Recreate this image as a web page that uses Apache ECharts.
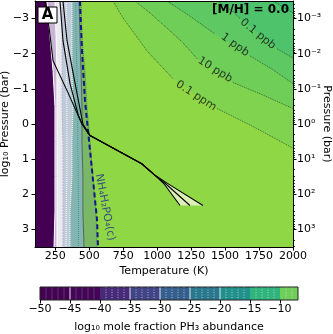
<!DOCTYPE html>
<html>
<head>
<meta charset="utf-8">
<script src="https://cdn.jsdelivr.net/npm/echarts@6/dist/echarts.min.js"></script>
<style>
  html, body { margin: 0; padding: 0; background: #fff; }
  #chart { width: 333px; height: 334px; }
</style>
</head>
<body>
<div id="chart"></div>
<script>
// ---- axes ----
const xTicks = [250, 500, 750, 1000, 1250, 1500, 1750, 2000];
const leftTicks = [-3, -2, -1, 0, 1, 2, 3];
const leftTickLabels = ['−3', '−2', '−1', '0', '1', '2', '3'];
const rightTickLabels = ['10⁻³', '10⁻²', '10⁻¹', '10⁰', '10¹', '10²', '10³'];
const minorMult = [2, 3, 4, 5, 6, 7, 8, 9];
const cbTicks = [-50, -45, -40, -35, -30, -25, -20, -15, -10];
const cbTickLabels = ['−50', '−45', '−40', '−35', '−30', '−25', '−20', '−15', '−10'];

// ---- transition zone: band edges (T in K) read at these log10 P rows ----
const edgeLogP   = [-3.5, -2.5, -1.5, -0.5, 0.5, 1.5, 2.5, 3.5];
const leftEdge   = [100, 100, 100, 100, 100, 100, 100, 100];
const purpleEdge = [188, 210, 233, 247, 247, 247, 247, 240];
const lavEdge    = [247, 255, 262, 262, 262, 262, 262, 262];
const whiteEdge  = [299, 299, 299, 299, 306, 306, 306, 306];
const greyEdge   = [372, 372, 372, 380, 372, 372, 358, 358];
const tealEdge   = [424, 431, 439, 446, 446, 453, 453, 461];
const greenEdge  = [439, 446, 468, 483, 505, 527, 549, 557];
const dotLineA   = [330, 330, 332, 335, 335, 335, 330, 328];
const dotLineB   = [400, 402, 408, 415, 415, 418, 420, 420];

// ---- PH3 contours in the hot region, [T, log10 P], null = label gap ----
const ppm01 = [[674, -3.5], [748, -3.02], [925, -2.08], [1116, -1.29], null, [1440, -0.44], [1720, 0.10], [2000, 0.69]];
const ppb10 = [[836, -3.5], [947, -3.16], [1072, -2.73], [1190, -2.31], [1293, -1.86], null, [1558, -1.18], [1757, -0.86], [2000, -0.44]];
const ppb1  = [[1072, -3.5], [1241, -3.07], [1425, -2.56], null, [1683, -1.94], [1850, -1.55], [2000, -1.15]];
const ppb01 = [[1440, -3.5], [1551, -3.22], [1610, -3.0], null, [1882, -2.14], [2000, -1.88]];
const ppt10 = [[1853, -3.5], [2000, -3.16]];
const contourLabels = [
  { name: '0.1 ppm', value: [1286, -0.80], rot: -33 },
  { name: '10 ppb', value: [1426, -1.54], rot: -32 },
  { name: '1 ppb', value: [1573, -2.25], rot: -36 },
  { name: '0.1 ppb', value: [1742, -2.56], rot: -39 }
];

// ---- NH4H2PO4(c) condensation curve ----
const condT    = [431, 446, 468, 490, 520, 557, 564];
const condLogP = [-3.5, -2.08, -0.67, 0.18, 1.32, 2.73, 3.5];

// ---- P-T profiles [T, log10 P] ----
const profileCool = [[175, -3.5], [205, -2.7], [233, -1.8], [336, -0.95], [446, 0.0], [505, 0.33], [640, 0.61], [886, 1.13], [984, 1.46], [1050, 1.70], [1168, 2.32]];
const profileMid  = [[284, -3.5], [306, -2.37], [358, -1.15], [419, -0.25], [446, 0.0], [505, 0.33], [640, 0.61], [886, 1.13], [984, 1.46], [1062, 1.70], [1241, 2.32]];
const profileHot  = [[306, -3.5], [336, -2.37], [387, -1.32], [453, 0.0], [505, 0.33], [640, 0.61], [886, 1.13], [984, 1.46], [1075, 1.69], [1337, 2.32]];

// ---- colorbar ----
const cbBands  = [[-50, -45], [-45, -40], [-40, -35], [-35, -30], [-30, -25], [-25, -20], [-20, -15], [-15, -10], [-10, -7]];
const cbColors = ['#440154', '#450457', '#472a7a', '#414487', '#355f8d', '#2a788e', '#21918c', '#2fb47c', '#6ece58'];
const cbGrayLevels  = [-49, -48, -47, -46, -44, -43, -42, -41];
const cbWhiteLevels = [-45, -35, -30, -25, -20];
const cbDotLevels   = [-39, -38, -37, -36, -34, -33, -32, -31, -29, -28, -27, -26, -24, -23, -22, -21,
                       -19, -18, -17, -16, -14, -13, -12, -11, -9, -8];

const chart = echarts.init(document.getElementById('chart'));

const bandEdges = [leftEdge, purpleEdge, lavEdge, whiteEdge, greyEdge, tealEdge, greenEdge];
const bandColors = ['#440154', '#cbb3d5', '#eceaf1', '#bfcbd9', '#86b4b2', '#7bb866'];
function edgePoly(a, b) {
  const pts = a.map((t, i) => [t, edgeLogP[i]]);
  for (let i = b.length - 1; i >= 0; i--) pts.push([b[i], edgeLogP[i]]);
  return pts;
}
const transitionPolys = bandColors.map((c, i) => ({ pts: edgePoly(bandEdges[i], bandEdges[i + 1]), color: c }));

const contours = [ppm01, ppb10, ppb1, ppb01, ppt10];
const upperColors = ['#7fd34e', '#6ece58', '#5ec962', '#4ec36b', '#3fbc73'];
const upperPolys = contours.map((c, i) => ({ pts: c.filter(p => p).concat([[2000, -3.5]]), color: upperColors[i] }));

const tail = p => p.slice(p.findIndex(q => q[0] === 984));
const profileFill = [{ pts: tail(profileCool).concat(tail(profileHot).reverse()), color: '#dcefb5' }];

function polySeries(polys, z) {
  return {
    type: 'custom', coordinateSystem: 'cartesian2d', xAxisIndex: 0, yAxisIndex: 0,
    clip: true, silent: true, z: z,
    data: polys.map((p, i) => [p.pts[0][0], p.pts[0][1], i]),
    renderItem: (params, api) => {
      const p = polys[params.dataIndex];
      return { type: 'polygon', shape: { points: p.pts.map(q => api.coord(q)) }, style: { fill: p.color } };
    }
  };
}
function lineSeries(pts, style, z) {
  return {
    type: 'line', xAxisIndex: 0, yAxisIndex: 0, data: pts, symbol: 'none', silent: true,
    clip: true, z: z, lineStyle: style
  };
}
function splitAtGaps(line) {
  const segs = [[]];
  line.forEach(p => { if (p) segs[segs.length - 1].push(p); else segs.push([]); });
  return segs;
}
const edgeLine = arr => arr.map((t, i) => [t, edgeLogP[i]]);

const series = [];
series.push(polySeries(upperPolys, 1));
series.push(polySeries(transitionPolys, 2));
series.push(lineSeries(edgeLine(purpleEdge), { color: '#ffffff', width: 1 }, 3));
series.push(lineSeries(edgeLine(lavEdge), { color: '#ffffff', width: 1 }, 3));
series.push(lineSeries(edgeLine(whiteEdge), { color: '#b7a9cc', width: 0.8, type: [2, 1] }, 3));
series.push(lineSeries(edgeLine(dotLineA), { color: '#ffffff', width: 1, type: [1, 1] }, 3));
series.push(lineSeries(edgeLine(greyEdge), { color: '#ffffff', width: 1, type: [1, 1] }, 3));
series.push(lineSeries(edgeLine(dotLineB), { color: '#2aa58f', width: 1, type: [1, 1] }, 3));
series.push(lineSeries(edgeLine(tealEdge), { color: '#4f6a5c', width: 1 }, 3));
series.push(lineSeries(edgeLine(greenEdge), { color: '#2f7d45', width: 0.8, type: [1, 1] }, 3));
contours.forEach(c => splitAtGaps(c).forEach(seg =>
  series.push(lineSeries(seg, { color: '#1e3a1e', width: 0.7, type: [1, 1] }, 4))));
series.push(lineSeries(condT.map((t, i) => [t, condLogP[i]]), { color: '#14148c', width: 2, type: [5, 3] }, 5));
series.push(polySeries(profileFill, 5));
[profileCool, profileMid, profileHot].forEach(p =>
  series.push(lineSeries(p, { color: '#000000', width: 1.1 }, 6)));
series.push({
  type: 'scatter', xAxisIndex: 0, yAxisIndex: 0, symbolSize: 0, silent: true, z: 7,
  data: contourLabels.map(l => ({ name: l.name, value: l.value, label: { rotate: l.rot } })),
  label: { show: true, position: 'inside', formatter: '{b}', color: '#111', fontSize: 11, fontFamily: 'DejaVu Sans' }
});
series.push({
  type: 'scatter', xAxisIndex: 0, yAxisIndex: 0, symbolSize: 0, silent: true, z: 7,
  data: [{ name: 'NH₄H₂PO₄(c)', value: [615, 2.37] }],
  label: { show: true, position: 'inside', formatter: '{b}', rotate: -79, color: '#23308f', fontSize: 11, fontFamily: 'DejaVu Sans' }
});

// colorbar
series.push({
  type: 'custom', coordinateSystem: 'cartesian2d', xAxisIndex: 2, yAxisIndex: 3, silent: true, z: 2,
  data: cbBands.map((b, i) => [b[0], 0, i]),
  renderItem: (params, api) => {
    const b = cbBands[params.dataIndex];
    const p0 = api.coord([b[0], 1]), p1 = api.coord([b[1], 0]);
    return { type: 'rect', shape: { x: p0[0], y: p0[1], width: p1[0] - p0[0], height: p1[1] - p0[1] }, style: { fill: cbColors[params.dataIndex] } };
  }
});
function cbLineSeries(levels, style) {
  return {
    type: 'custom', coordinateSystem: 'cartesian2d', xAxisIndex: 2, yAxisIndex: 3, silent: true, z: 3,
    data: levels.map(v => [v, 0]),
    renderItem: (params, api) => {
      const v = api.value(0);
      const a = api.coord([v, 1]), b = api.coord([v, 0]);
      return { type: 'line', shape: { x1: a[0], y1: a[1], x2: b[0], y2: b[1] }, style: style };
    }
  };
}
series.push(cbLineSeries(cbGrayLevels, { stroke: '#6a5a7a', lineWidth: 0.6 }));
series.push(cbLineSeries(cbWhiteLevels, { stroke: '#e8e8f0', lineWidth: 1 }));
series.push(cbLineSeries(cbDotLevels, { stroke: 'rgba(225,225,235,0.7)', lineWidth: 1, lineDash: [1, 1.5] }));
series.push({
  type: 'custom', coordinateSystem: 'cartesian2d', xAxisIndex: 2, yAxisIndex: 3, silent: true, z: 4,
  data: [[-50, 0]],
  renderItem: (params, api) => {
    const a = api.coord([-50, 1]), b = api.coord([-7, 0]);
    return { type: 'rect', shape: { x: a[0], y: a[1], width: b[0] - a[0], height: b[1] - a[1] }, style: { fill: 'none', stroke: '#222', lineWidth: 1 } };
  }
});

const font = { fontFamily: 'DejaVu Sans', fontSize: 11, color: '#000' };
const blackLine = { show: true, onZero: false, lineStyle: { color: '#000', width: 1 } };

chart.setOption({
  animation: false,
  backgroundColor: '#fff',
  grid: [
    { left: 35, right: 40, top: 1, height: 246, show: true, backgroundColor: '#8fd744', borderWidth: 0, outerBoundsMode: 'none' },
    { left: 40, right: 35, top: 287, height: 13, outerBoundsMode: 'none' }
  ],
  xAxis: [
    {
      type: 'value', gridIndex: 0, min: 100, max: 2000, z: 10,
      axisLine: blackLine, splitLine: { show: false },
      axisTick: { customValues: xTicks, length: 3.5, lineStyle: { color: '#000' } },
      axisLabel: Object.assign({ customValues: xTicks, margin: 4, formatter: v => String(v) }, font),
      name: 'Temperature (K)', nameLocation: 'middle', nameGap: 19, nameMoveOverlap: false, nameTextStyle: font
    },
    {
      type: 'value', gridIndex: 0, position: 'top', min: 100, max: 2000, z: 10,
      axisLine: blackLine, axisTick: { show: false }, axisLabel: { show: false }, splitLine: { show: false }
    },
    {
      type: 'value', gridIndex: 1, min: -50, max: -7, z: 10,
      axisLine: { show: false }, splitLine: { show: false },
      axisTick: { customValues: cbTicks, length: 3.5, lineStyle: { color: '#000' } },
      axisLabel: Object.assign({ customValues: cbTicks, margin: 4,
        formatter: v => cbTickLabels[cbTicks.indexOf(v)] }, font),
      name: 'log₁₀ mole fraction PH₃ abundance', nameLocation: 'middle', nameGap: 22, nameMoveOverlap: false, nameTextStyle: font
    }
  ],
  yAxis: [
    {
      type: 'value', gridIndex: 0, min: -3.5, max: 3.5, inverse: true, z: 10,
      axisLine: blackLine, splitLine: { show: false },
      axisTick: { customValues: leftTicks, length: 3.5, lineStyle: { color: '#000' } },
      axisLabel: Object.assign({ customValues: leftTicks, margin: 6,
        formatter: v => leftTickLabels[leftTicks.indexOf(v)] }, font),
      name: 'log₁₀ Pressure (bar)', nameLocation: 'middle', nameGap: 24, nameRotate: 90, nameMoveOverlap: false, nameTextStyle: font
    },
    {
      type: 'value', gridIndex: 0, position: 'right', min: -3.5, max: 3.5, inverse: true, z: 10,
      axisLine: blackLine, splitLine: { show: false },
      axisTick: { customValues: leftTicks, length: 3.5, lineStyle: { color: '#000' } },
      axisLabel: Object.assign({ customValues: leftTicks, margin: 4,
        formatter: v => rightTickLabels[leftTicks.indexOf(v)] }, font),
      name: 'Pressure (bar)', nameLocation: 'middle', nameGap: 28, nameRotate: -90, nameMoveOverlap: false, nameTextStyle: font
    },
    {
      type: 'value', gridIndex: 0, position: 'right', min: -3.5, max: 3.5, inverse: true, z: 10,
      axisLine: { show: false }, splitLine: { show: false }, axisLabel: { show: false },
      axisTick: {
        customValues: leftTicks.concat([-4]).flatMap(d => minorMult.map(m => d + Math.log10(m))).filter(v => v > -3.5 && v < 3.5),
        length: 2, lineStyle: { color: '#000', width: 0.8 }
      }
    },
    {
      type: 'value', gridIndex: 1, min: 0, max: 1, show: false
    }
  ],
  graphic: [
    { type: 'rect', z: 100, shape: { x: 38, y: 7, width: 19, height: 16 }, style: { fill: '#fff', stroke: '#000', lineWidth: 1 } },
    { type: 'text', z: 101, x: 47.5, y: 15.5, style: { text: 'A', fontFamily: 'DejaVu Sans', fontWeight: 'bold', fontSize: 15, fill: '#000', align: 'center', verticalAlign: 'middle' } },
    { type: 'text', z: 100, x: 289, y: 10, style: { text: '[M/H] = 0.0', fontFamily: 'DejaVu Sans', fontWeight: 'bold', fontSize: 12, fill: '#000', align: 'right', verticalAlign: 'middle' } }
  ],
  series: series
});
</script>
</body>
</html>
